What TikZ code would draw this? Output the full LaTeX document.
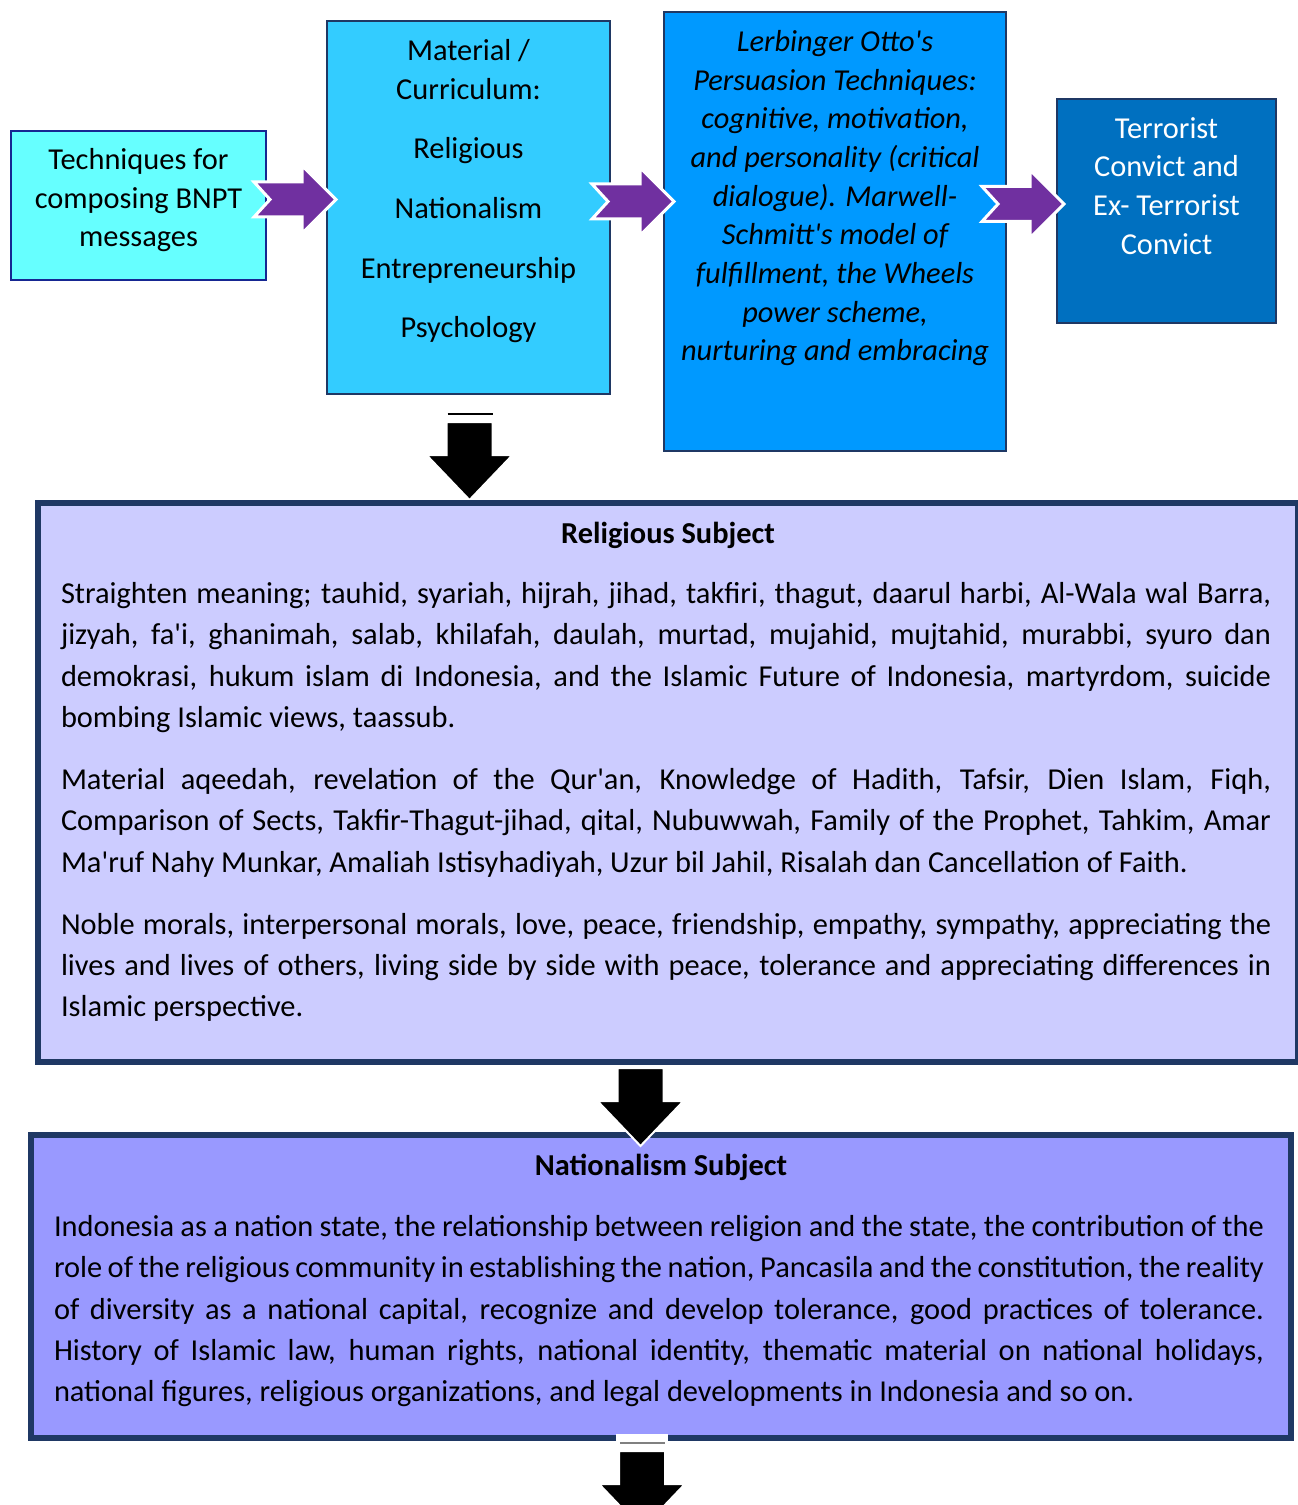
\documentclass[tikz,border=0pt]{standalone}
\usepackage{fontspec}
\setmainfont{Carlito}
\usetikzlibrary{positioning,calc}
\definecolor{cyanbox}{HTML}{66FFFF}
\definecolor{skybox}{HTML}{33CCFF}
\definecolor{azurebox}{HTML}{0099FF}
\definecolor{deepbox}{HTML}{0070C0}
\definecolor{navyline}{HTML}{1F3864}
\definecolor{arrowpurple}{HTML}{7030A0}
\definecolor{lavlight}{HTML}{CCCCFF}
\definecolor{lavdeep}{HTML}{9999FF}
\newcommand{\sq}{\textquotesingle}
\hyphenpenalty=10000
\begin{document}
\begin{tikzpicture}
[x=0.75pt,y=-0.75pt,
topbox/.style={draw=navyline,line width=1.5pt,anchor=north west,inner sep=0pt},
toptext/.style={align=center,inner sep=0pt,font=\fontsize{22.8}{29}\selectfont},
bigbox/.style={draw=navyline,line width=4.5pt,anchor=north west,inner sep=0pt},
boxtitle/.style={inner sep=0pt,font=\fontsize{22.8}{31}\selectfont\bfseries},
boxbody/.style={align=justify,text width=907.5pt,inner sep=0pt,xshift=-1.5pt,font=\fontsize{22.8}{31}\selectfont},
purplearrow/.pic={
\filldraw[fill=arrowpurple,draw=white,line width=2.25pt,line join=miter]
(16,0) -- ++(-16,-17.5) -- ++(48,0) -- ++(0,-16.5) -- ++(34,34)
-- ++(-34,34) -- ++(0,-16.5) -- ++(-48,0) -- cycle;},
downarrow/.pic={
\filldraw[fill=black,draw=white,line width=1.5pt,line join=miter]
(-23,0) -- ++(46,0) -- ++(0,33) -- ++(20,0) -- ++(-43,45)
-- ++(-43,-45) -- ++(20,0) -- cycle;}]
\useasboundingbox (0,0) rectangle (1298,1505);
%%
% top row
%%
\node[topbox,fill=cyanbox,draw=navyline!70!blue,minimum width=191.25pt,minimum height=111.75pt] (tech) at (10,130) {};
\node[topbox,fill=skybox,minimum width=212.25pt,minimum height=279.75pt] (mat) at (326,20) {};
\node[topbox,fill=azurebox,minimum width=256.5pt,minimum height=329.25pt] (lerb) at (663,11) {};
\node[topbox,fill=deepbox,minimum width=164.25pt,minimum height=168pt] (term) at (1056,98) {};
%
\node[toptext,below=13.5pt of tech.north] (techtxt) {Techniques for\\composing BNPT\\messages};
\node[toptext,below=14.25pt of mat.north] (mattxt) {Material /\\Curriculum:\\[15.75pt]Religious\\[15.75pt]Nationalism\\[15.75pt]Entrepreneurship\\[15.75pt]Psychology};
\node[toptext,below=14.25pt of lerb.north,font=\fontsize{22.8}{29}\selectfont\itshape] (lerbtxt)
{Lerbinger Otto\sq s\\Persuasion Techniques:\\cognitive, motivation,\\and personality (critical\\dialogue). Marwell-\\Schmitt\sq s model of\\fulfillment, the Wheels\\power scheme,\\nurturing and embracing};
\node[toptext,below=14.25pt of term.north,text=white] (termtxt) {Terrorist\\Convict and\\Ex- Terrorist\\Convict};
%%
% arrows between the top boxes
%%
\pic at ($(tech.east)+(-13,-6)$) {purplearrow};
\pic at ($(mat.east)+(-19,-6)$) {purplearrow};
\pic at ($(term.west)+(-74,-7)$) {purplearrow};
%
\draw[line width=1.5pt] ($(mat.south)+(-21,19)$) -- ($(mat.south)+(24,19)$);
\pic at ($(mat.south)+(1,27)$) {downarrow};
%%
% Religious Subject
%%
\node[bigbox,fill=lavlight,minimum width=945pt,minimum height=419.25pt] (relig) at (35,500) {};
\node[boxtitle,below=16.5pt of relig.north] (religtitle) {Religious Subject};
\node[boxbody,below=24.75pt of religtitle] (religbody)
{Straighten meaning; tauhid, syariah, hijrah, jihad, takfiri, thagut, daarul harbi, Al-Wala wal Barra,\linebreak
jizyah, fa\sq i, ghanimah, salab, khilafah, daulah, murtad, mujahid, mujtahid, murabbi, syuro dan\linebreak
demokrasi, hukum islam di Indonesia, and the Islamic Future of Indonesia, martyrdom, suicide\linebreak
bombing Islamic views, taassub.\par\vspace{15.5pt}
Material aqeedah, revelation of the Qur\sq an, Knowledge of Hadith, Tafsir, Dien Islam, Fiqh,\linebreak
Comparison of Sects, Takfir-Thagut-jihad, qital, Nubuwwah, Family of the Prophet, Tahkim, Amar\linebreak
Ma\sq ruf Nahy Munkar, Amaliah Istisyhadiyah, Uzur bil Jahil, Risalah dan Cancellation of Faith.\par\vspace{15.5pt}
Noble morals, interpersonal morals, love, peace, friendship, empathy, sympathy, appreciating the\linebreak
lives and lives of others, living side by side with peace, tolerance and appreciating differences in\linebreak
Islamic perspective.};
%%
% Nationalism Subject
%%
\node[bigbox,fill=lavdeep,minimum width=945pt,minimum height=227.25pt] (nation) at (28,1132) {};
\pic at ($(relig.south)+(-27.5,3)$) {downarrow};
\node[boxtitle,below=16.5pt of nation.north] (nationtitle) {Nationalism Subject};
\node[boxbody,below=25.5pt of nationtitle] (nationbody)
{Indonesia as a nation state, the relationship between religion and the state, the contribution of the\linebreak
role of the religious community in establishing the nation, Pancasila and the constitution, the reality\linebreak
of diversity as a national capital, recognize and develop tolerance, good practices of tolerance.\linebreak
History of Islamic law, human rights, national identity, thematic material on national holidays,\linebreak
national figures, religious organizations, and legal developments in Indonesia and so on.};
%
\fill[white] ($(nation.south)+(-45,-7)$) rectangle ($(nation.south)+(7,6)$);
\draw[gray,line width=1.5pt] ($(nation.south)+(-41,2)$) -- ($(nation.south)+(4,2)$);
\pic at ($(nation.south)+(-19,10)$) {downarrow};
\end{tikzpicture}
\end{document}
